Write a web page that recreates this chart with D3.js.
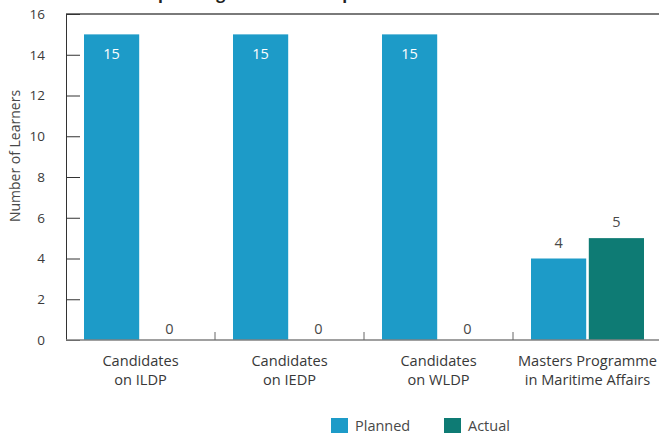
<!DOCTYPE html>
<html>
<head>
<meta charset="utf-8">
<script src="https://cdn.jsdelivr.net/npm/d3@7"></script>
<style>
  html, body { margin: 0; padding: 0; background: #fff; }
  svg { display: block; font-family: "Open Sans", "Noto Sans", sans-serif; }
</style>
</head>
<body>
<svg id="chart" width="659" height="433"></svg>
<script>
// Learners per programme: planned vs actual
const categories = [
  ["Candidates", "on ILDP"],
  ["Candidates", "on IEDP"],
  ["Candidates", "on WLDP"],
  ["Masters Programme", "in Maritime Affairs"]
];
const seriesNames = ["Planned", "Actual"];
const planned = [15, 15, 15, 4];
const actual = [0, 0, 0, 5];
const yTicks = [0, 2, 4, 6, 8, 10, 12, 14, 16];
const colors = ["#1d9bc8", "#0e7b74"];

const svg = d3.select("#chart");
const margin = { left: 66, top: 14, right: -3, bottom: 93 };
const width = 659 - margin.left - margin.right;
const height = 433 - margin.top - margin.bottom;

const g = svg.append("g").attr("transform", `translate(${margin.left},${margin.top})`);

const x0 = d3.scaleBand().domain(d3.range(categories.length)).range([0, width]);
const x1 = d3.scaleBand().domain(seriesNames).range([18, x0.bandwidth() - 18]).paddingInner(0.045);
const y = d3.scaleLinear().domain([0, 16]).range([height, 0]);

// Title (sits above the plot frame)
svg.append("text")
  .attr("x", 146).attr("y", -1)
  .attr("font-size", 16).attr("font-weight", 700).attr("fill", "#222")
  .text("Upskilling and Leadership");

// Top frame line
g.append("line")
  .attr("x1", 0).attr("x2", width).attr("y1", 0).attr("y2", 0)
  .attr("stroke", "#7a7a7a").attr("stroke-width", 2);

// Bars
const data = categories.map((c, i) => ({ i, values: [planned[i], actual[i]] }));
const groups = g.selectAll("g.cat").data(data).join("g")
  .attr("class", "cat")
  .attr("transform", d => `translate(${x0(d.i)},0)`);

groups.selectAll("rect").data(d => d.values.map((v, k) => ({ k, v }))).join("rect")
  .attr("x", d => x1(seriesNames[d.k]))
  .attr("width", x1.bandwidth())
  .attr("y", d => y(d.v))
  .attr("height", d => height - y(d.v))
  .attr("fill", d => colors[d.k]);

// Value labels
groups.selectAll("text.val").data(d => d.values.map((v, k) => ({ k, v }))).join("text")
  .attr("class", "val")
  .attr("x", d => x1(seriesNames[d.k]) + x1.bandwidth() / 2)
  .attr("y", d => d.v >= 10 ? y(d.v) + 25 : (d.v === 0 ? y(0) - 6 : y(d.v) - 11))
  .attr("text-anchor", "middle")
  .attr("font-size", 14.5)
  .attr("fill", d => d.v >= 10 ? "#ffffff" : "#484848")
  .text(d => d.v);

// Y axis
const yAxis = g.append("g").call(
  d3.axisLeft(y).tickValues(yTicks).tickSize(-14).tickPadding(21).tickFormat(d3.format("d"))
);
yAxis.select(".domain").attr("stroke", "#333");
yAxis.selectAll(".tick line").attr("stroke", "#333");
yAxis.selectAll(".tick text").attr("font-size", 13.5).attr("fill", "#3a3a3a")
  .attr("font-family", "\"Open Sans\", sans-serif");

// Bottom axis line with group separators
g.append("line")
  .attr("x1", 0).attr("x2", width).attr("y1", height).attr("y2", height)
  .attr("stroke", "#808080").attr("stroke-width", 1.5);
g.selectAll("line.sep").data(d3.range(1, categories.length)).join("line")
  .attr("class", "sep")
  .attr("x1", d => x0(d)).attr("x2", d => x0(d))
  .attr("y1", height).attr("y2", height - 8)
  .attr("stroke", "#666");

// Category labels
const catText = g.selectAll("text.cat").data(categories).join("text")
  .attr("class", "cat")
  .attr("text-anchor", "middle")
  .attr("font-size", 14.6)
  .attr("fill", "#383838")
  .attr("transform", (d, i) => `translate(${x0(i) + x0.bandwidth() / 2},${height + 26})`);
catText.selectAll("tspan").data(d => d).join("tspan")
  .attr("x", 0)
  .attr("dy", (d, k) => k === 0 ? 0 : 18.7)
  .text(d => d);

// Y axis title
svg.append("text")
  .attr("transform", "translate(20,156) rotate(-90)")
  .attr("text-anchor", "middle")
  .attr("font-size", 14).attr("fill", "#484848")
  .text("Number of Learners");

// Legend
const legend = svg.append("g").attr("transform", "translate(331,418)");
const legendX = [0, 113];
seriesNames.forEach((name, k) => {
  const item = legend.append("g").attr("transform", `translate(${legendX[k]},0)`);
  item.append("rect").attr("width", 17).attr("height", 15).attr("fill", colors[k]);
  item.append("text").attr("x", 24).attr("y", 13)
    .attr("font-size", 14.5).attr("fill", "#484848").text(name);
});
</script>
</body>
</html>
